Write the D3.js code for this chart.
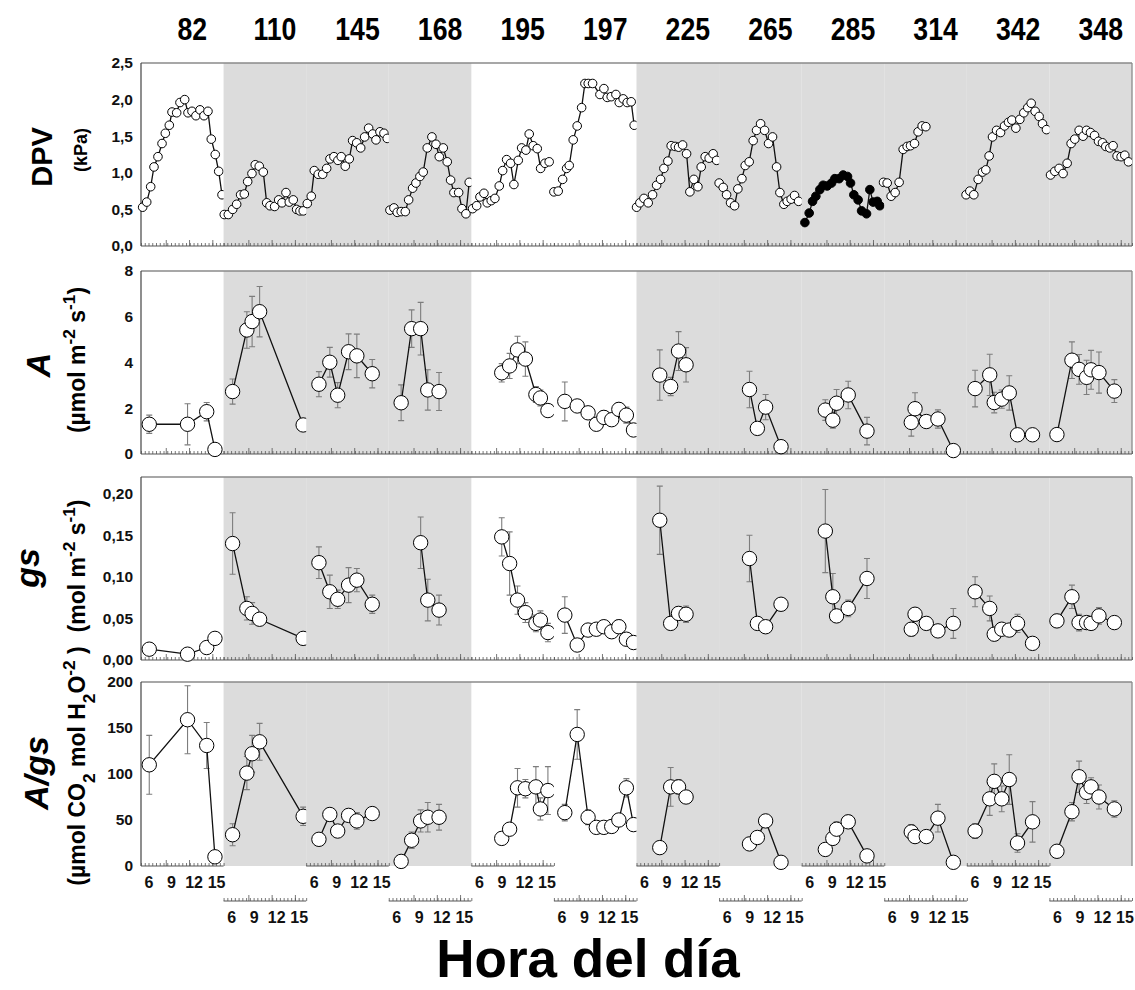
<!DOCTYPE html>
<html><head><meta charset="utf-8">
<script src="https://cdn.jsdelivr.net/npm/d3@7"></script>
<style>
body{margin:0;background:#fff;}
svg{display:block;font-family:"Liberation Sans",Arial,Helvetica,sans-serif;}
</style></head><body>
<svg id="chart" width="1135" height="990"></svg>
<script>
// ---------------- DATA ----------------
const days = ["82","110","145","168","195","197","225","265","285","314","342","348"];
const shadedPanels = [false,true,true,true,false,false,true,true,true,true,true,true];
const hourTickLabels = [6,9,12,15];
const hourMajorTicks = [8.3,11.4,14.5];
const dpvTicks = [0,0.5,1,1.5,2,2.5];
const aTicks = [0,2,4,6,8];
const gsTicks = [0,0.05,0.10,0.15,0.20];
const wueTicks = [0,50,100,150,200];
const dpvFilledPanel = [false,false,false,false,false,false,false,false,true,false,false,false];

// DPV (kPa), half-hourly readings per day
const dpvHours = [
 [5.22,5.76,6.29,6.73,7.26,7.80,8.24,8.77,9.13,9.75,10.19,10.82,11.26,11.79,12.32,12.86,13.39,13.92,14.36,14.89,15.35,15.79],
 [5.09,5.63,6.21,6.74,7.27,7.76,8.21,8.78,9.22,9.75,10.29,10.74,11.18,11.80,12.34,12.78,13.31,13.75,14.28,14.73,15.17,15.61],
 [5.15,5.68,6.08,6.61,7.20,7.73,8.17,8.70,9.23,9.67,10.21,10.74,11.19,11.73,12.26,12.79,13.32,13.86,14.30,14.83,15.36,15.80],
 [5.16,5.69,6.13,6.66,7.20,7.65,8.18,8.62,9.15,9.59,10.13,10.75,11.29,11.73,12.26,12.79,13.24,13.68,14.31,14.75,15.28,15.72],
 [5.17,5.71,6.15,6.68,7.12,7.65,8.14,8.72,9.17,9.70,10.23,10.67,11.25,11.70,12.27,12.71,13.24,13.78,14.23,14.80,15.37],
 [5.00,5.57,6.16,6.69,7.04,7.57,8.10,8.69,9.13,9.57,10.15,11.13,11.66,12.10,12.63,13.26,13.70,14.23,14.76,15.29,15.69],
 [5.01,5.45,5.99,6.56,7.14,7.68,8.21,8.65,9.18,9.62,10.15,10.61,11.14,11.67,12.11,12.64,13.18,13.62,14.15,14.68,15.21,15.67],
 [5.01,5.55,6.00,6.53,7.06,7.50,8.04,8.48,9.01,9.54,9.99,10.53,11.06,11.59,12.12,12.66,13.10,13.63,14.07,14.60,15.05,15.59],
 [5.43,6.00,6.45,6.89,7.42,7.86,8.40,8.98,9.42,9.99,10.53,11.11,11.51,11.95,12.52,12.98,13.64,14.08,14.52,15.06,15.41],
 [4.90,5.39,5.92,6.45,6.98,7.52,8.05,8.50,9.03,9.51,10.05,10.54],
 [4.90,5.40,5.93,6.51,7.09,7.53,7.97,8.42,8.96,9.49,10.02,10.55,11.00,11.53,12.06,12.59,13.12,13.57,14.10,14.63,15.08,15.61],
 [5.15,5.72,6.29,6.82,7.36,7.89,8.38,8.96,9.49,9.94,10.47,11.01,11.54,12.07,12.51,13.04,13.48,14.02,14.55,15.04,15.53]
];
const dpvValues = [
 [0.53,0.60,0.81,1.08,1.22,1.40,1.54,1.65,1.83,1.82,1.96,2.00,1.82,1.84,1.78,1.86,1.78,1.84,1.46,1.25,1.02,0.70],
 [0.43,0.43,0.50,0.57,0.70,0.71,0.88,0.99,1.11,1.09,1.01,0.59,0.55,0.54,0.63,0.59,0.73,0.60,0.63,0.50,0.48,0.48],
 [0.58,0.68,1.03,0.98,0.98,1.06,1.19,1.22,1.17,1.22,1.09,1.19,1.44,1.41,1.34,1.49,1.61,1.53,1.45,1.56,1.54,1.47],
 [0.49,0.52,0.46,0.47,0.47,0.63,0.79,0.86,0.95,1.01,1.34,1.49,1.39,1.22,1.34,1.15,0.90,0.73,0.73,0.51,0.44,0.87],
 [0.51,0.55,0.67,0.72,0.59,0.62,0.65,0.82,1.03,1.18,1.13,0.84,1.17,1.34,1.31,1.53,1.37,1.33,1.06,1.13,1.15],
 [0.74,0.75,0.91,1.06,1.10,1.45,1.64,1.89,2.22,2.22,2.22,2.07,2.15,2.03,2.04,2.07,1.96,2.01,1.96,1.97,1.65],
 [0.53,0.59,0.65,0.59,0.70,0.83,0.91,1.06,1.16,1.37,1.36,1.35,1.38,1.26,0.74,0.91,0.81,1.08,1.22,1.20,1.26,1.17],
 [0.86,0.80,0.70,0.59,0.55,0.78,0.92,1.10,1.15,1.44,1.58,1.67,1.58,1.40,1.49,1.08,0.73,0.57,0.61,0.64,0.69,0.61],
 [0.32,0.45,0.61,0.68,0.77,0.83,0.82,0.86,0.92,0.92,0.97,0.95,0.86,0.70,0.63,0.48,0.44,0.77,0.60,0.61,0.55],
 [0.87,0.86,0.68,0.73,0.87,1.32,1.36,1.37,1.40,1.56,1.64,1.63],
 [0.70,0.75,0.70,0.91,1.01,1.04,1.23,1.49,1.58,1.55,1.64,1.69,1.72,1.61,1.73,1.82,1.89,1.95,1.84,1.77,1.67,1.59],
 [0.97,1.02,1.06,0.99,1.13,1.40,1.46,1.58,1.50,1.58,1.55,1.51,1.43,1.41,1.36,1.34,1.37,1.23,1.22,1.24,1.15]
];

// gas exchange measurement times per day
const gasHours = [
 [6.10,11.20,13.75,14.85],
 [6.20,8.10,8.80,9.80,15.60],
 [6.70,8.15,9.20,10.65,11.75,13.80],
 [6.65,8.05,9.25,10.20,11.70],
 [9.05,10.10,11.15,12.20,13.60,14.20,15.20],
 [6.45,8.10,9.55,10.65,11.65,12.70,13.65,14.65,15.60],
 [8.10,9.55,10.60,11.60],
 [9.05,10.10,11.20,13.25],
 [8.15,9.15,9.65,11.20,13.70],
 [8.60,9.10,10.60,12.15,14.20],
 [6.10,8.05,8.65,9.65,10.65,11.75,13.75],
 [6.00,8.00,8.95,9.95,10.55,11.60,13.65]
];
// A (umol m-2 s-1): mean and standard error
const aMean = [
 [1.30,1.30,1.85,0.20],
 [2.73,5.42,5.79,6.22,1.27],
 [3.05,4.01,2.57,4.47,4.29,3.51],
 [2.24,5.48,5.48,2.80,2.73],
 [3.55,3.85,4.55,4.15,2.60,2.45,1.90],
 [2.30,2.10,1.80,1.30,1.60,1.50,1.95,1.70,1.05],
 [3.45,2.95,4.50,3.90],
 [2.82,1.12,2.05,0.32],
 [1.92,1.48,2.22,2.58,1.00],
 [1.38,1.98,1.42,1.53,0.15],
 [2.86,3.46,2.25,2.40,2.67,0.84,0.84],
 [0.85,4.10,3.70,3.35,3.68,3.56,2.75]
];
const aSE = [
 [0.40,0.90,0.40,null],
 [0.55,0.80,1.10,1.10,null],
 [0.55,0.65,0.55,0.78,0.95,0.62],
 [0.78,0.82,1.15,0.88,0.83],
 [0.40,0.55,0.60,0.75,0.35,0.35,0.22],
 [0.85,0.20,0.25,0.25,0.30,0.25,0.30,0.35,0.20],
 [1.10,0.40,0.85,0.75],
 [0.80,0.12,0.55,0.20],
 [0.45,0.35,0.60,0.60,0.60],
 [0.60,0.70,0.25,0.40,null],
 [0.80,0.90,0.45,0.40,0.75,0.25,0.20],
 [0.20,0.80,0.65,0.75,0.85,0.90,0.50]
];
// gs (mol m-2 s-1)
const gsMean = [
 [0.013,0.007,0.015,0.026],
 [0.140,0.062,0.056,0.049,0.026],
 [0.117,0.082,0.073,0.090,0.096,0.067],
 [null,null,0.141,0.072,0.060],
 [0.148,0.116,0.072,0.057,0.044,0.048,0.033],
 [0.054,0.018,0.036,0.037,0.040,0.034,0.040,0.025,0.021],
 [0.168,0.044,0.056,0.055],
 [0.122,0.044,0.040,0.067],
 [0.155,0.076,0.053,0.062,0.098],
 [0.037,0.055,0.044,0.035,0.044],
 [0.082,0.062,0.031,0.037,0.036,0.044,0.020],
 [0.047,0.076,0.045,0.045,0.044,0.053,0.045]
];
const gsSE = [
 [null,null,null,null],
 [0.037,0.014,0.013,null,null],
 [0.019,0.020,0.011,0.021,0.014,0.011],
 [null,null,0.031,0.025,0.018],
 [0.023,0.038,0.017,0.012,0.010,0.011,0.011],
 [0.022,null,0.005,0.006,0.006,0.006,0.008,null,null],
 [0.041,0.005,0.008,0.010],
 [0.028,null,null,0.006],
 [0.050,0.028,0.007,0.010,0.024],
 [0.008,0.008,null,null,0.018],
 [0.018,0.015,null,null,null,0.011,null],
 [0.008,0.014,0.010,null,null,0.010,null]
];
// A/gs (umol CO2 mol H2O-1)
const wueMean = [
 [110,159,131,10],
 [34,101,122,135,54],
 [29,56,38,55,49,57],
 [5,28,49,53,53],
 [30,40,85,84,86,62,82],
 [58,143,53,42,42,43,50,85,45],
 [20,86,86,75],
 [24,31,49,4],
 [18,30,40,48,11],
 [37,32,32,52,4],
 [38,73,92,73,94,25,48],
 [16,59,97,80,86,75,62]
];
const wueSE = [
 [32,37,25,null],
 [12,18,20,20,10],
 [null,null,null,null,9,5],
 [null,9,12,16,14],
 [null,null,21,10,22,12,26],
 [9,27,8,null,null,null,null,10,null],
 [null,21,8,5],
 [null,6,6,null],
 [5,null,8,7,null],
 [8,null,null,15,null],
 [8,18,19,14,27,10,22],
 [null,10,17,12,10,13,9]
];

// ---------------- LAYOUT ----------------
const W = 1135, H = 990;
const plotL = 141, plotR = 1132, nP = days.length, pW = (plotR - plotL) / nP;
const rows = [
  {top: 63,  bot: 246, max: 2.5},
  {top: 271, bot: 454, max: 8},
  {top: 477, bot: 660, max: 0.22},
  {top: 682, bot: 866, max: 200}
];
const shade = "#dcdcdc";
const svg = d3.select("#chart");
const defs = svg.append("defs");
const xs = days.map((d, i) => d3.scaleLinear().domain([5, 16]).range([plotL + i * pW, plotL + (i + 1) * pW]));
days.forEach((d, i) => {
  defs.append("clipPath").attr("id", "cp" + i).append("rect")
    .attr("x", plotL + i * pW - 6).attr("y", 0).attr("width", pW + 6).attr("height", H);
});
const minorHours = d3.range(5, 16.01, 0.5);

rows.forEach(r => { r.y = d3.scaleLinear().domain([0, r.max]).range([r.bot, r.top]); });

function drawFrame(r, ticks, fmt, fullBottomAxis) {
  const g = svg.append("g");
  shadedPanels.forEach((s, i) => {
    if (s) g.append("rect").attr("x", xs[i].range()[0]).attr("y", r.top)
      .attr("width", pW).attr("height", r.bot - r.top).attr("fill", shade);
  });
  g.append("line").attr("x1", plotL).attr("x2", plotR).attr("y1", r.top).attr("y2", r.top)
    .attr("stroke", "#8a8a8a").attr("stroke-width", 1.3);
  g.append("line").attr("x1", plotR).attr("x2", plotR).attr("y1", r.top).attr("y2", r.bot)
    .attr("stroke", "#8a8a8a").attr("stroke-width", 1.3);
  g.append("line").attr("x1", plotL).attr("x2", plotL).attr("y1", r.top).attr("y2", r.bot)
    .attr("stroke", "#444").attr("stroke-width", 1.2);
  const ya = g.append("g").attr("transform", `translate(${plotL},0)`)
    .call(d3.axisLeft(r.y).tickValues(ticks).tickSize(0).tickPadding(8).tickFormat(fmt));
  ya.select(".domain").remove();
  ya.selectAll("text").attr("font-size", 15.5).attr("font-weight", "bold").attr("fill", "#111")
    .attr("font-family", '"Liberation Sans",Arial,sans-serif');
  if (fullBottomAxis) {
    g.append("line").attr("x1", plotL).attr("x2", plotR).attr("y1", r.bot).attr("y2", r.bot)
      .attr("stroke", "#555").attr("stroke-width", 1.1);
    xs.forEach(x => hourTicksAt(g, x, r.bot));
  }
}
function hourTicksAt(g, x, yPos) {
  const a1 = g.append("g").attr("transform", `translate(0,${yPos})`)
    .call(d3.axisTop(x).tickValues(minorHours).tickSize(3).tickFormat(""));
  a1.select(".domain").remove();
  a1.selectAll("line").attr("stroke", "#555").attr("stroke-width", 0.8);
  const a2 = g.append("g").attr("transform", `translate(0,${yPos})`)
    .call(d3.axisTop(x).tickValues(hourMajorTicks).tickSize(6).tickFormat(""));
  a2.select(".domain").remove();
  a2.selectAll("line").attr("stroke", "#555").attr("stroke-width", 0.8);
}

const comma = f => d => f(d).replace(".", ",");
drawFrame(rows[0], dpvTicks, comma(d3.format(".1f")), true);
drawFrame(rows[1], aTicks, d3.format("d"), true);
drawFrame(rows[2], gsTicks, comma(d3.format(".2f")), true);
drawFrame(rows[3], wueTicks, d3.format("d"), false);

// staggered hour axes under the A/gs row
days.forEach((d, i) => {
  const x = xs[i];
  const yPos = i % 2 === 0 ? rows[3].bot : 901;
  const g = svg.append("g");
  g.append("line").attr("x1", x.range()[0]).attr("x2", x.range()[1]).attr("y1", yPos).attr("y2", yPos)
    .attr("stroke", "#555").attr("stroke-width", 1.1);
  hourTicksAt(g, x, yPos);
  const lab = g.append("g").attr("transform", `translate(0,${yPos})`)
    .call(d3.axisBottom(x).tickValues(hourTickLabels).tickSize(0).tickPadding(11).tickFormat(d3.format("d")));
  lab.select(".domain").remove();
  lab.selectAll("text").attr("font-size", 16).attr("font-weight", "bold").attr("fill", "#111")
    .attr("font-family", '"Liberation Sans",Arial,sans-serif');
});

// ---------------- SERIES ----------------
function drawSeries(i, hours, vals, ses, y, rad, filled) {
  const x = xs[i];
  const pts = hours.map((h, k) => ({h, v: vals[k], e: ses ? ses[k] : null})).filter(p => p.v != null);
  const cg = svg.append("g").attr("clip-path", `url(#cp${i})`);
  const eb = cg.selectAll("g.eb").data(pts.filter(p => p.e != null)).join("g").attr("class", "eb")
    .attr("stroke", "#7d7d7d").attr("stroke-width", 1.1);
  eb.append("line").attr("x1", p => x(p.h)).attr("x2", p => x(p.h))
    .attr("y1", p => y(p.v - p.e)).attr("y2", p => y(p.v + p.e));
  eb.append("line").attr("x1", p => x(p.h) - 3).attr("x2", p => x(p.h) + 3)
    .attr("y1", p => y(p.v + p.e)).attr("y2", p => y(p.v + p.e));
  eb.append("line").attr("x1", p => x(p.h) - 3).attr("x2", p => x(p.h) + 3)
    .attr("y1", p => y(p.v - p.e)).attr("y2", p => y(p.v - p.e));
  cg.append("path").datum(pts)
    .attr("d", d3.line().x(p => x(p.h)).y(p => y(p.v)))
    .attr("fill", "none").attr("stroke", "#111").attr("stroke-width", 1.3);
  cg.selectAll("circle.pt").data(pts).join("circle").attr("class", "pt")
    .attr("cx", p => x(p.h)).attr("cy", p => y(p.v)).attr("r", rad)
    .attr("fill", filled ? "#000" : "#fff").attr("stroke", "#000").attr("stroke-width", 1);
}
days.forEach((d, i) => {
  drawSeries(i, dpvHours[i], dpvValues[i], null, rows[0].y, 4.3, dpvFilledPanel[i]);
  drawSeries(i, gasHours[i], aMean[i], aSE[i], rows[1].y, 7.2, false);
  drawSeries(i, gasHours[i], gsMean[i], gsSE[i], rows[2].y, 7.2, false);
  drawSeries(i, gasHours[i], wueMean[i], wueSE[i], rows[3].y, 7.2, false);
});

// ---------------- TEXT ----------------
days.forEach((d, i) => {
  const cx = (xs[i].range()[0] + xs[i].range()[1]) / 2 + 10;
  svg.append("text").attr("transform", `translate(${cx},40) scale(0.86,1)`)
    .attr("text-anchor", "middle").attr("font-size", 31).attr("font-weight", "bold").attr("fill", "#000").text(d);
});

function vlabel(x, y, size, style, parts) {
  const t = svg.append("text").attr("transform", `translate(${x},${y}) rotate(-90)`)
    .attr("text-anchor", "middle").attr("font-size", size).attr("font-weight", "bold")
    .attr("font-style", style).attr("fill", "#000");
  parts.forEach(p => {
    const s = t.append("tspan").text(p[0]);
    if (p[1] === "sup") s.attr("baseline-shift", "super").attr("font-size", "75%");
    if (p[1] === "sub") s.attr("baseline-shift", "sub").attr("font-size", "75%");
  });
}
vlabel(52, 157, 29, "normal", [["DPV"]]);
vlabel(87, 150, 18, "normal", [["(kPa)"]]);
vlabel(50, 365, 34, "italic", [["A"]]);
vlabel(85, 360, 23, "normal", [["(\u00b5mol m"], ["-2", "sup"], [" s"], ["-1", "sup"], [")"]]);
vlabel(39, 568, 34, "italic", [["gs"]]);
vlabel(85, 566, 23, "normal", [["(mol m"], ["-2", "sup"], [" s"], ["-1", "sup"], [")"]]);
vlabel(48, 773, 34, "italic", [["A/gs"]]);
vlabel(85, 766, 23, "normal", [["(\u00b5mol CO"], ["2", "sub"], [" mol H"], ["2", "sub"], ["O"], ["-2", "sup"], [" )"]]);

svg.append("text").attr("x", 588).attr("y", 977).attr("text-anchor", "middle")
  .attr("font-size", 53).attr("font-weight", "bold").attr("fill", "#000").text("Hora del día");
</script>
</body></html>
